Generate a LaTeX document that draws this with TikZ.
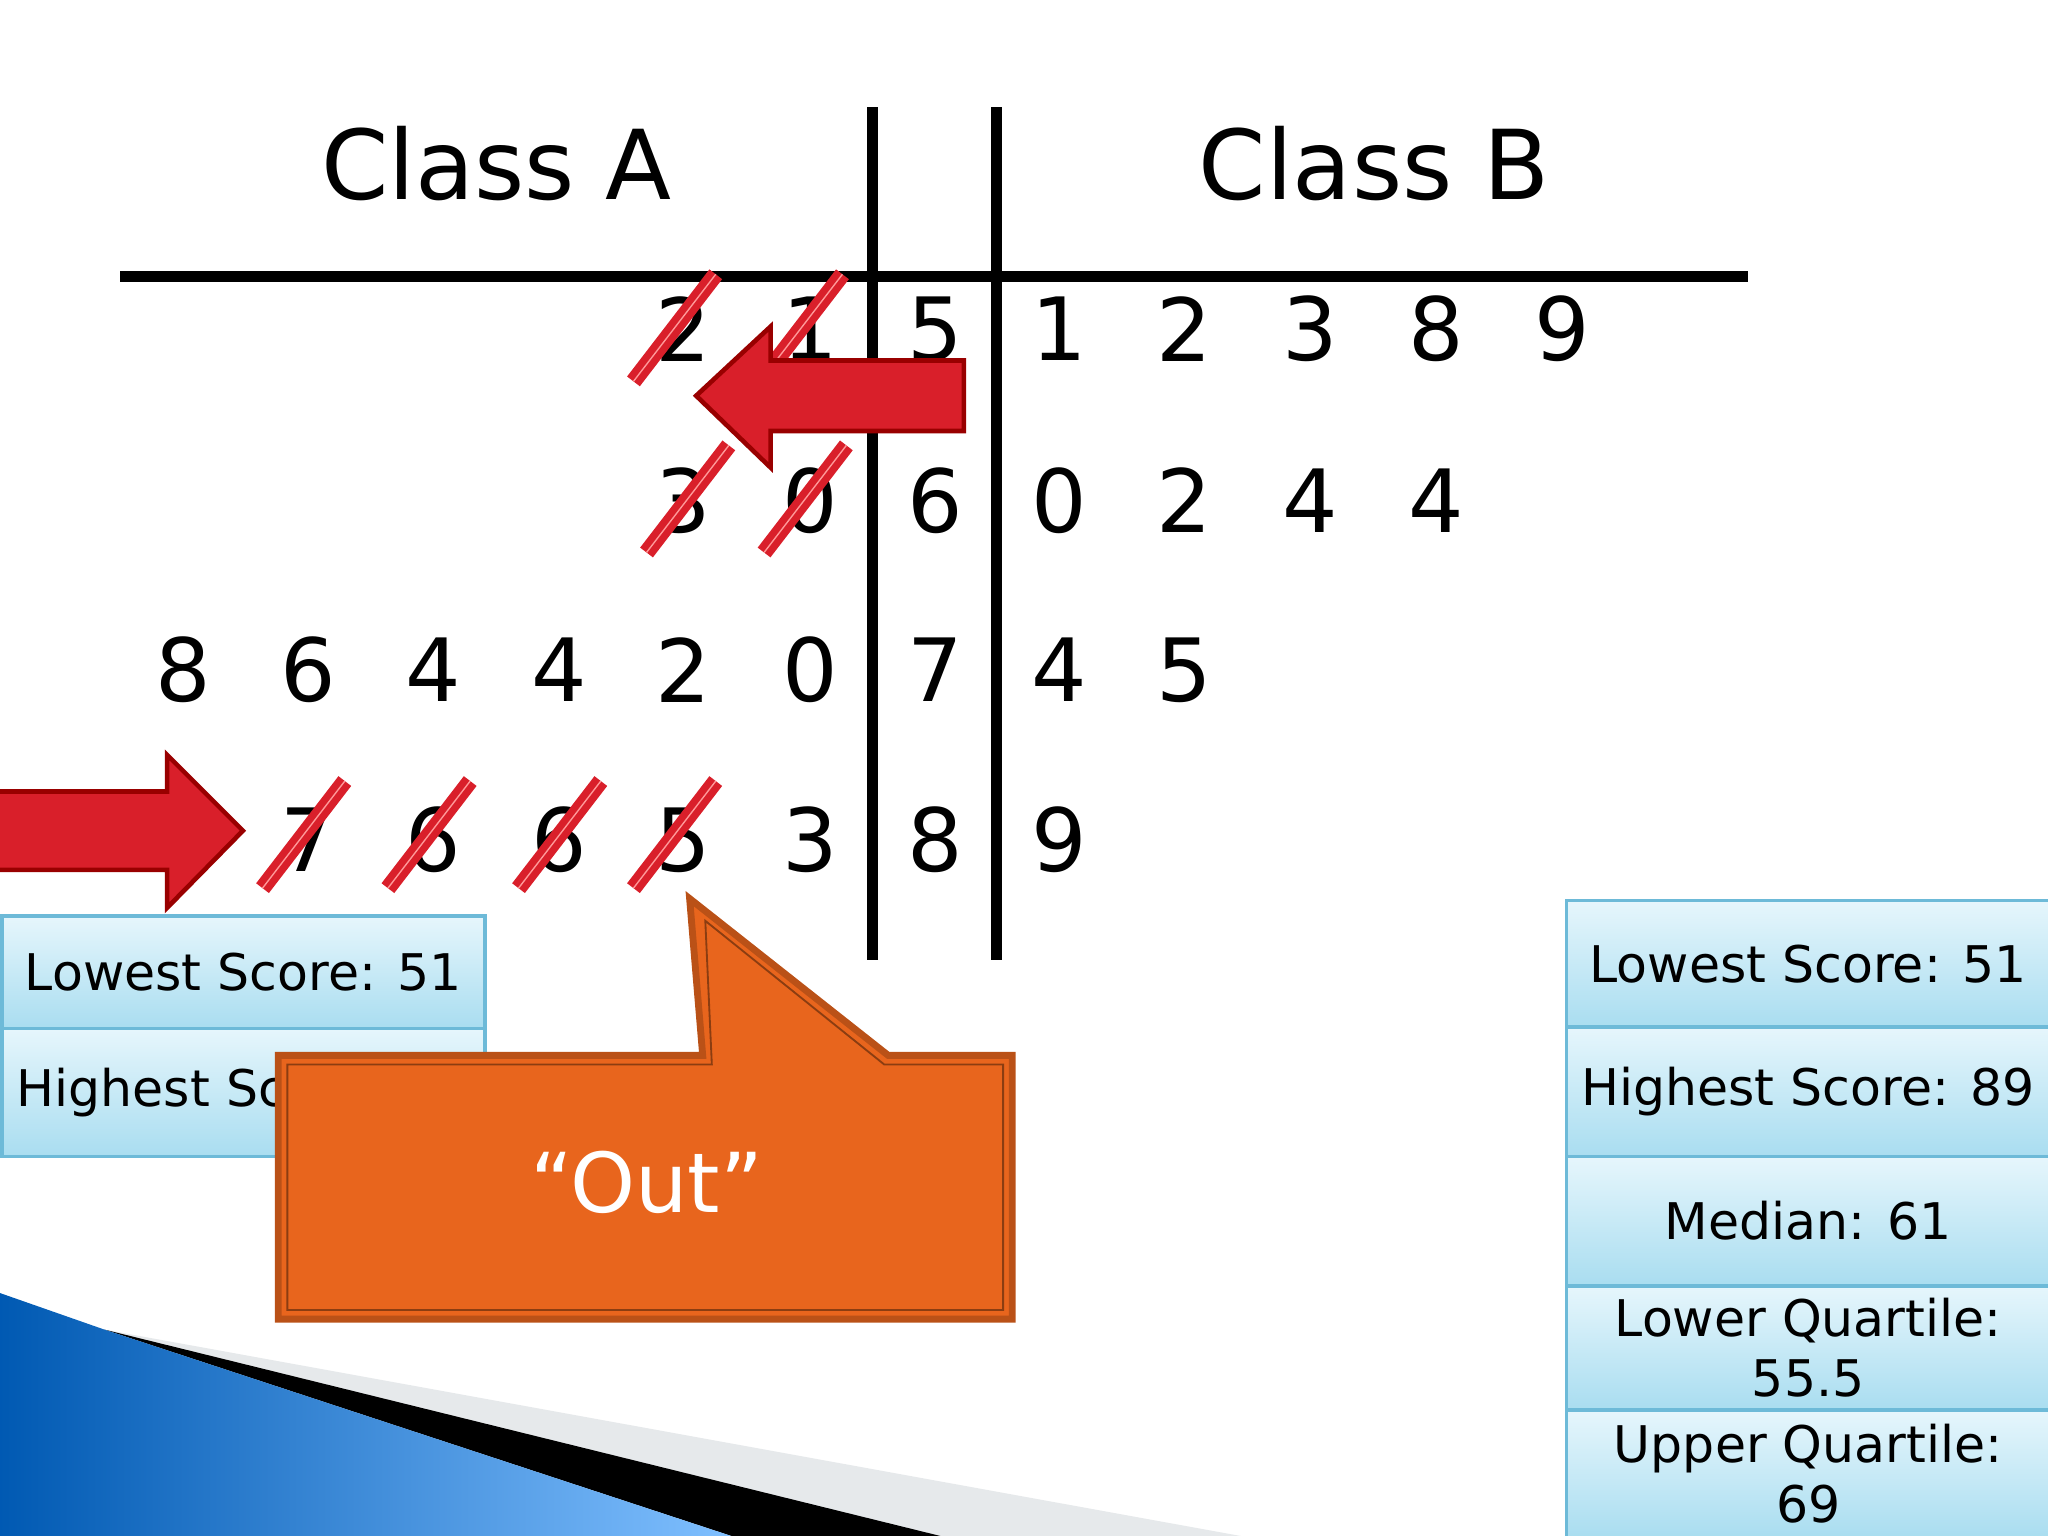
\documentclass[tikz,border=0pt]{standalone}
\usepackage{fontspec}
\setmainfont{DejaVu Sans}
\definecolor{arr}{HTML}{D91F2A}
\definecolor{org}{HTML}{E8651D}
\definecolor{bxtop}{HTML}{E6F6FC}
\definecolor{bxbot}{HTML}{A9DDF0}
\definecolor{bxline}{HTML}{6DBAD8}
\tikzset{
 dig/.style={font=\fontsize{19}{20}\selectfont},
 strike/.style={draw=arr,line width=1.6pt,double=red!40,double distance=0.3pt},
 bluebox/.style={draw=bxline,line width=0.8pt,top color=bxtop,bottom color=bxbot,
   font=\fontsize{11}{13}\selectfont,align=center,inner sep=0pt},
 rarrow/.style={fill=arr,draw=red!60!black,line width=1pt},
}
\begin{document}
\begin{tikzpicture}[x=0.01cm,y=-0.01cm]
\useasboundingbox (0,0) rectangle (1568,1176);
% background decoration
\fill[cyan!10!gray!20] (80,1018) -- (950,1176) -- (560,1176) -- cycle;
\fill[black] (80,1018) -- (720,1176) -- (560,1176) -- cycle;
\shade[left color=cyan!50!blue!70!black,right color=cyan!50!blue!50] (0,990) -- (80,1018) -- (560,1176) -- (0,1176) -- cycle;
% lines
\draw[line width=2.4pt] (92,212) -- (1338,212);
\draw[line width=2.4pt] (668,82) -- (668,735);
\draw[line width=2.4pt] (763,82) -- (763,735);
\node[font=\fontsize{21}{22}\selectfont] (ca) at (380,125) {Class A};
\node[font=\fontsize{21}{22}\selectfont] (cb) at (1052,125) {Class B};
\foreach \x/\d [count=\i] in {523/2,620/1,716/5,811/1,907/2,1003/3,1100/8,1196/9} \node[dig] (r1\i) at (\x,252) {\d};
\foreach \x/\d [count=\i] in {523/3,620/0,716/6,811/0,907/2,1003/4,1100/4} \node[dig] (r2\i) at (\x,383) {\d};
\foreach \x/\d [count=\i] in {140/8,236/6,332/4,428/4,523/2,620/0,716/7,811/4,907/5} \node[dig] (r3\i) at (\x,513) {\d};
\foreach \x/\d [count=\i] in {236/7,332/6,428/6,523/5,620/3,716/8,811/9} \node[dig] (r4\i) at (\x,643) {\d};
% strikes
\foreach \x/\y in {518/252,615/252,528/383,618/383,234/640,330/640,430/640,518/640}
  \draw[strike] (\x-33,\y+40) -- (\x+30,\y-42);
% left red arrow
\draw[rarrow] (738,276) -- (738,330) -- (590,330) -- (590,358) -- (533,303) -- (590,250) -- (590,276) -- cycle;
% right red arrow
\draw[rarrow] (0,606) -- (128,606) -- (128,578) -- (186,636) -- (128,695) -- (128,666) -- (0,666);
% left boxes
\node[bluebox,minimum width=370*0.01cm,minimum height=86*0.01cm,anchor=north west] (l1) at (0,700) {Lowest Score: 51};
\node[bluebox,minimum width=370*0.01cm,minimum height=98*0.01cm,anchor=north west] (l2) at (0,786) {Highest Score: 89};
% orange callout
\draw[fill=org,draw=org!80!black,line width=1.5pt]
 (213,808) -- (538,808) -- (528,688) -- (680,808) -- (775,808) -- (775,1010) -- (213,1010) -- cycle;
\draw[org!60!black,line width=0.4pt] (220,815) -- (545,815) -- (540,705) -- (677,815) -- (768,815) -- (768,1003) -- (220,1003) -- cycle;
\node[white,font=\fontsize{18}{20}\selectfont] (out) at (495,905) {“Out”};
% right boxes
\node[bluebox,minimum width=370*0.01cm,minimum height=97*0.01cm,anchor=north west] (b1) at (1198,688) {Lowest Score: 51};
\node[bluebox,minimum width=370*0.01cm,minimum height=99*0.01cm,anchor=north west] (b2) at (1198,785) {Highest Score: 89};
\node[bluebox,minimum width=370*0.01cm,minimum height=99*0.01cm,anchor=north west] (b3) at (1198,884) {Median: 61};
\node[bluebox,minimum width=370*0.01cm,minimum height=95*0.01cm,anchor=north west] (b4) at (1198,983) {Lower Quartile:\\55.5};
\node[bluebox,minimum width=370*0.01cm,minimum height=98*0.01cm,anchor=north west] (b5) at (1198,1078) {Upper Quartile:\\69};
\end{tikzpicture}
\end{document}
